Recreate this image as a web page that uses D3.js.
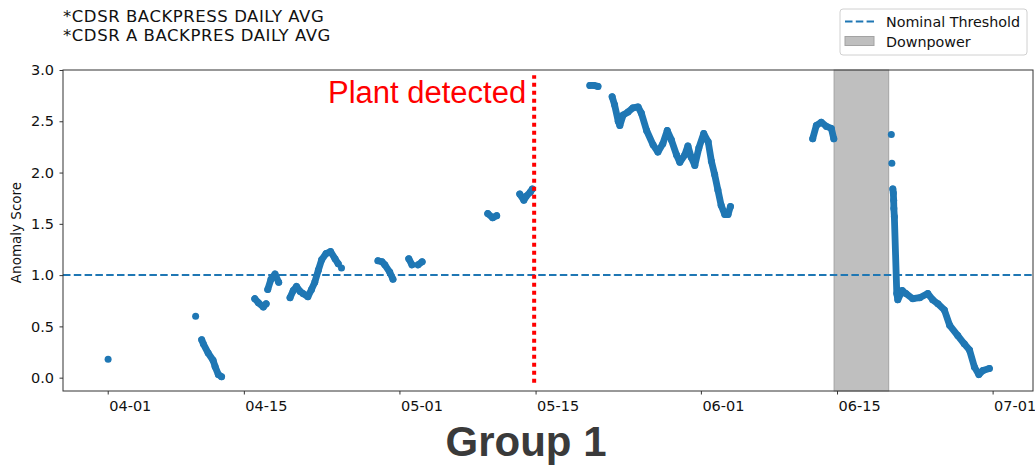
<!DOCTYPE html>
<html>
<head>
<meta charset="utf-8">
<script src="https://cdn.jsdelivr.net/npm/d3@7"></script>
<style>
  body { margin: 0; background: #fff; }
  svg { display: block; }
</style>
</head>
<body>
<div id="chart"></div>
<script>
// Anomaly score samples, null marks a gap in the record
const scoreTimes = [
  '2023-04-01 01:00', null,
  '2023-04-10 01:00', null,
  '2023-04-10 16:00', '2023-04-10 20:00', '2023-04-11 08:00', '2023-04-11 20:00', '2023-04-12 01:00', '2023-04-12 09:00', '2023-04-12 17:00', null,
  '2023-04-16 03:00', '2023-04-16 12:00', '2023-04-17 00:00', '2023-04-17 07:00', null,
  '2023-04-17 11:00', '2023-04-17 19:00', '2023-04-18 05:00', '2023-04-18 14:00', null,
  '2023-04-19 18:00', '2023-04-20 02:00', '2023-04-20 10:00', '2023-04-20 19:00', '2023-04-21 02:00', '2023-04-21 14:00', '2023-04-21 23:00',
  '2023-04-22 07:00', '2023-04-22 16:00', '2023-04-23 00:00', '2023-04-23 11:00', '2023-04-23 22:00', '2023-04-24 09:00', '2023-04-24 17:00', null,
  '2023-04-25 01:00', null,
  '2023-04-28 19:00', '2023-04-29 05:00', '2023-04-29 12:00', '2023-04-30 00:00', '2023-04-30 08:00', null,
  '2023-05-01 23:00', '2023-05-02 07:00', null,
  '2023-05-02 22:00', '2023-05-03 08:00', null,
  '2023-05-10 02:00', '2023-05-10 14:00', '2023-05-11 00:00', null,
  '2023-05-13 09:00', '2023-05-13 19:00', '2023-05-14 01:00', '2023-05-14 11:00', '2023-05-14 16:00', null,
  '2023-05-20 14:00', '2023-05-21 00:00', '2023-05-21 10:00', null,
  '2023-05-22 21:00', '2023-05-23 03:00', '2023-05-23 12:00', '2023-05-23 16:00', '2023-05-24 00:00', '2023-05-24 12:00', '2023-05-25 00:00',
  '2023-05-25 13:00', '2023-05-25 21:00', '2023-05-26 10:00', '2023-05-27 02:00', '2023-05-27 14:00', '2023-05-28 02:00', '2023-05-28 13:00',
  '2023-05-28 23:00', '2023-05-29 12:00', '2023-05-29 20:00', '2023-05-30 08:00', '2023-05-30 16:00', '2023-05-31 00:00', '2023-05-31 09:00',
  '2023-05-31 19:00', '2023-06-01 07:00', '2023-06-01 18:00', '2023-06-02 02:00', '2023-06-02 10:00', '2023-06-02 18:00', '2023-06-03 02:00',
  '2023-06-03 11:00', '2023-06-03 19:00', '2023-06-04 01:00', null,
  '2023-06-12 12:00', '2023-06-12 21:00', '2023-06-13 09:00', '2023-06-13 22:00', '2023-06-14 10:00', '2023-06-14 16:00', null,
  '2023-06-20 14:00', null,
  '2023-06-20 15:20', null,
  '2023-06-20 17:45', '2023-06-20 19:00', '2023-06-20 19:45', '2023-06-20 20:15', '2023-06-20 21:30', '2023-06-21 03:30', '2023-06-21 06:00',
  '2023-06-21 17:00', '2023-06-22 02:00', '2023-06-22 19:00', '2023-06-23 12:00', '2023-06-24 08:00', '2023-06-24 20:00', '2023-06-25 09:00',
  '2023-06-26 01:00', '2023-06-26 14:00', '2023-06-27 10:00', '2023-06-28 02:00', '2023-06-28 15:00', '2023-06-29 03:00', '2023-06-29 14:00',
  '2023-06-30 00:00', '2023-06-30 16:00'
];
const scoreValues = [
  0.18, null,
  0.60, null,
  0.37, 0.33, 0.24, 0.17, 0.11, 0.03, 0.01, null,
  0.77, 0.73, 0.69, 0.72, null,
  0.86, 0.96, 1.01, 0.93, null,
  0.78, 0.85, 0.89, 0.84, 0.82, 0.79, 0.86,
  0.93, 1.05, 1.15, 1.21, 1.23, 1.16, 1.11, null,
  1.07, null,
  1.14, 1.13, 1.10, 1.03, 0.96, null,
  1.16, 1.10, null,
  1.10, 1.13, null,
  1.60, 1.56, 1.58, null,
  1.79, 1.73, 1.77, 1.81, 1.84, null,
  2.85, 2.85, 2.84, null,
  2.74, 2.66, 2.50, 2.46, 2.56, 2.59, 2.63,
  2.64, 2.58, 2.41, 2.27, 2.20, 2.28, 2.41,
  2.32, 2.17, 2.10, 2.17, 2.26, 2.15, 2.07,
  2.24, 2.38, 2.30, 2.11, 1.98, 1.83, 1.68,
  1.59, 1.59, 1.67, null,
  2.33, 2.46, 2.49, 2.45, 2.43, 2.33, null,
  2.37, null,
  2.09, null,
  1.84, 1.80, 1.73, 1.65, 1.57, 0.82, 0.76,
  0.85, 0.82, 0.77, 0.78, 0.82, 0.76, 0.72,
  0.66, 0.51, 0.41, 0.33, 0.27, 0.105, 0.03,
  0.07, 0.09
];

const xTickDates = ['2023-04-01 00:00', '2023-04-15 00:00', '2023-05-01 00:00', '2023-05-15 00:00', '2023-06-01 00:00', '2023-06-15 00:00', '2023-07-01 00:00'];
const yTickValues = [0, 0.5, 1.0, 1.5, 2.0, 2.5, 3.0];
const downpowerSpan = ['2023-06-14 16:45', '2023-06-20 07:30'];
const plantDetectedTime = '2023-05-14 20:30';
const nominalThreshold = 1.0;
const headerLines = ['*CDSR BACKPRESS DAILY AVG', '*CDSR A BACKPRES DAILY AVG'];
const legendLabels = ['Nominal Threshold', 'Downpower'];

const parseTime = d3.timeParse('%Y-%m-%d %H:%M');
const blue = '#1f77b4';
const tickFont = 'DejaVu Sans';

const margin = { top: 70, right: 2, bottom: 75, left: 63 };
const width = 1035 - margin.left - margin.right;
const height = 466 - margin.top - margin.bottom;

const svg = d3.select('#chart')
  .append('svg')
  .attr('width', 1035)
  .attr('height', 466);

const x = d3.scaleTime()
  .domain([parseTime('2023-03-27 09:40'), parseTime('2023-07-05 03:40')])
  .range([0, width]);
const y = d3.scaleLinear().domain([-0.13, 3.0]).range([height, 0]);

const g = svg.append('g')
  .attr('transform', 'translate(' + margin.left + ',' + margin.top + ')');

// Downpower shading
g.append('rect')
  .attr('x', x(parseTime(downpowerSpan[0])))
  .attr('y', 0)
  .attr('width', x(parseTime(downpowerSpan[1])) - x(parseTime(downpowerSpan[0])))
  .attr('height', height)
  .attr('fill', '#bfbfbf')
  .attr('stroke', '#a3a3a3')
  .attr('stroke-width', 1);

// split the samples into runs at each gap
const runs = [];
let current = [];
for (let i = 0; i < scoreValues.length; i++) {
  if (scoreValues[i] === null) {
    if (current.length) runs.push(current);
    current = [];
  } else {
    current.push({ t: parseTime(scoreTimes[i]), v: scoreValues[i] });
  }
}
if (current.length) runs.push(current);

const line = d3.line().x((d) => x(d.t)).y((d) => y(d.v));

g.selectAll('.run')
  .data(runs.filter((r) => r.length > 1))
  .enter()
  .append('path')
  .attr('class', 'run')
  .attr('d', line)
  .attr('fill', 'none')
  .attr('stroke', blue)
  .attr('stroke-width', 6.8)
  .attr('stroke-linejoin', 'round')
  .attr('stroke-linecap', 'round');

g.selectAll('.dot')
  .data(runs.flat())
  .enter()
  .append('circle')
  .attr('class', 'dot')
  .attr('cx', (d) => x(d.t))
  .attr('cy', (d) => y(d.v))
  .attr('r', 3.5)
  .attr('fill', blue);

// Nominal threshold
g.append('line')
  .attr('x1', 0)
  .attr('x2', width)
  .attr('y1', y(nominalThreshold))
  .attr('y2', y(nominalThreshold))
  .attr('stroke', blue)
  .attr('stroke-width', 2)
  .attr('stroke-dasharray', '7.5,3.3');

// Plant detected marker
const px = x(parseTime(plantDetectedTime));
g.append('line')
  .attr('x1', px)
  .attr('x2', px)
  .attr('y1', y(-0.05))
  .attr('y2', y(2.95))
  .attr('stroke', '#ff0000')
  .attr('stroke-width', 4)
  .attr('stroke-dasharray', '4,4');

g.append('text')
  .attr('x', px - 8)
  .attr('y', 33)
  .attr('text-anchor', 'end')
  .attr('fill', '#ff0000')
  .style('font-family', 'Liberation Sans, Arial')
  .style('font-size', '31px')
  .text('Plant detected');

// Axes
const xAxis = g.append('g')
  .attr('transform', 'translate(0,' + height + ')')
  .call(d3.axisBottom(x)
    .tickValues(xTickDates.map(parseTime))
    .tickFormat(d3.timeFormat('%m-%d'))
    .tickSizeOuter(0)
    .tickSize(3.5));
xAxis.selectAll('text')
  .attr('text-anchor', 'start')
  .attr('x', 1)
  .attr('dy', '0.95em')
  .style('font-family', tickFont)
  .style('font-size', '14.5px')
  .attr('fill', '#111');

const yAxis = g.append('g')
  .call(d3.axisLeft(y)
    .tickValues(yTickValues)
    .tickFormat(d3.format('.1f'))
    .tickSizeOuter(0)
    .tickSize(3.5));
yAxis.selectAll('text')
  .attr('x', -9)
  .style('font-family', tickFont)
  .style('font-size', '14.5px')
  .attr('fill', '#111');

g.selectAll('.domain').remove();
g.selectAll('.tick line').attr('stroke', '#333');

// frame
g.append('rect')
  .attr('width', width)
  .attr('height', height)
  .attr('fill', 'none')
  .attr('stroke', '#333')
  .attr('stroke-width', 1);

svg.append('text')
  .attr('transform', 'translate(21,' + (margin.top + height / 2 + 2) + ') rotate(-90)')
  .attr('text-anchor', 'middle')
  .style('font-family', tickFont)
  .style('font-size', '13.5px')
  .attr('fill', '#111')
  .text('Anomaly Score');

// Header lines
svg.selectAll('.header')
  .data(headerLines)
  .enter()
  .append('text')
  .attr('class', 'header')
  .attr('x', 63)
  .attr('y', (d, i) => 22 + i * 18.5)
  .style('font-family', tickFont)
  .style('font-size', '16.5px')
  .style('letter-spacing', '0.55px')
  .attr('fill', '#111')
  .text((d) => d);

// Legend
const legend = svg.append('g').attr('transform', 'translate(840,9)');
legend.append('rect')
  .attr('width', 187)
  .attr('height', 46)
  .attr('rx', 3)
  .attr('fill', '#fff')
  .attr('stroke', '#d0d0d0');
legend.append('line')
  .attr('x1', 5)
  .attr('x2', 34)
  .attr('y1', 12.5)
  .attr('y2', 12.5)
  .attr('stroke', blue)
  .attr('stroke-width', 2)
  .attr('stroke-dasharray', '7.5,3.3');
legend.append('rect')
  .attr('x', 5)
  .attr('y', 27.5)
  .attr('width', 29)
  .attr('height', 9)
  .attr('fill', '#bfbfbf')
  .attr('stroke', '#a3a3a3');
legend.selectAll('.label')
  .data(legendLabels)
  .enter()
  .append('text')
  .attr('class', 'label')
  .attr('x', 46)
  .attr('y', (d, i) => 17.5 + i * 20.5)
  .style('font-family', tickFont)
  .style('font-size', '14.3px')
  .attr('fill', '#111')
  .text((d) => d);

// Group title
svg.append('text')
  .attr('x', 526)
  .attr('y', 456)
  .attr('text-anchor', 'middle')
  .style('font-family', 'Liberation Sans, Arial')
  .style('font-weight', 'bold')
  .style('font-size', '42px')
  .attr('fill', '#3a3a3a')
  .text('Group 1');
</script>
</body>
</html>
